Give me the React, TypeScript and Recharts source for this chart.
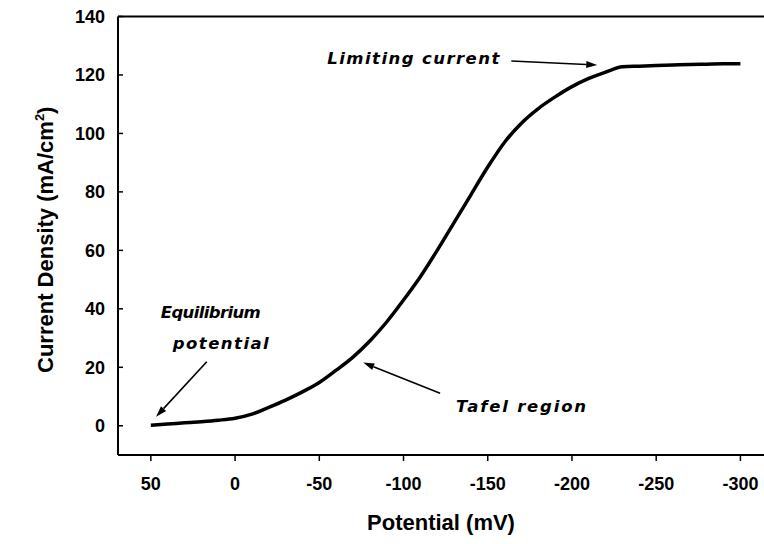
import { Label, Line, LineChart, ReferenceLine, XAxis, YAxis } from "recharts";

const FONT = '"Liberation Sans", Arial, sans-serif';
const NOTE_FONT = '"DejaVu Sans", "Liberation Sans", sans-serif';

// polarization curve
const potential = [
  50, 40, 30, 20, 10, 0, -10, -20, -30, -40, -50, -60, -70, -80, -90, -100,
  -110, -120, -130, -140, -150, -160, -170, -180, -190, -200, -210, -220,
  -230, -240, -250, -260, -270, -280, -290, -300,
];
const currentDensity = [
  0.2, 0.6, 1.0, 1.4, 1.9, 2.6, 4.0, 6.3, 8.8, 11.6, 14.8, 19, 23.5, 29,
  35.5, 43, 51, 60, 69.5, 79, 88.5, 97, 103.5, 108.5, 112.5, 116, 118.8, 121,
  122.8, 123, 123.2, 123.4, 123.6, 123.7, 123.8, 123.8,
];

const xTicks = [50, 0, -50, -100, -150, -200, -250, -300];
const yTicks = [0, 20, 40, 60, 80, 100, 120, 140];

// annotation arrows: [tail, tip] in data units
const limitingArrow = [{ x: -164, y: 124.8 }, { x: -215, y: 123.4 }];
const equilibriumArrow = [{ x: 16.8, y: 21.9 }, { x: 46.9, y: 3.1 }];
const tafelArrow = [{ x: -121.7, y: 11.1 }, { x: -76.1, y: 21.6 }];

const data = potential.map((p, i) => ({ potential: p, current: currentDensity[i] }));

const noteStyle = {
  fontFamily: NOTE_FONT,
  fontSize: 16.5,
  fontWeight: "bold" as const,
  fontStyle: "italic" as const,
  fill: "#000",
};

type Note = { text: string; dx: number; dy: number; anchor: "start" | "middle" | "end"; len: number };

// line + arrowhead + text placed next to the tail
const arrow = (notes: Note[]) => (props: any) => {
  const { x1, y1, x2, y2 } = props;
  const ang = Math.atan2(y2 - y1, x2 - x1);
  const L = 11;
  const W = 3.5;
  const bx = x2 - L * Math.cos(ang);
  const by = y2 - L * Math.sin(ang);
  const px = -Math.sin(ang) * W;
  const py = Math.cos(ang) * W;
  return (
    <g>
      <line x1={x1} y1={y1} x2={bx} y2={by} stroke="#000" strokeWidth={1.6} />
      <polygon points={`${x2},${y2} ${bx + px},${by + py} ${bx - px},${by - py}`} fill="#000" />
      {notes.map((n) => (
        <text
          key={n.text}
          x={x1 + n.dx}
          y={y1 + n.dy}
          textAnchor={n.anchor}
          textLength={n.len}
          lengthAdjust="spacing"
          style={noteStyle}
        >
          {n.text}
        </text>
      ))}
    </g>
  );
};

const YTick = ({ x, y, payload }: any) => (
  <g>
    <line x1={x + 13} x2={x + 18} y1={y} y2={y} stroke="#000" strokeWidth={1.5} />
    <text
      x={x}
      y={y}
      dy="0.36em"
      textAnchor="end"
      style={{ fontFamily: FONT, fontSize: 18, fontWeight: "bold", fill: "#000" }}
    >
      {payload.value}
    </text>
  </g>
);

export default function App() {
  return (
    <div
      style={{
        position: "absolute",
        left: 0,
        top: 0,
        width: 764,
        height: 544,
        overflow: "hidden",
        background: "#fff",
      }}
    >
      <LineChart
        width={764}
        height={544}
        data={data}
        margin={{ top: 16.5, right: 0, bottom: 0, left: 0 }}
        style={{ fontFamily: FONT }}
      >
        <XAxis
          dataKey="potential"
          type="number"
          reversed
          domain={[-314, 69.5]}
          allowDataOverflow
          ticks={xTicks}
          height={89}
          axisLine={{ stroke: "#000", strokeWidth: 2 }}
          tickLine={{ stroke: "#000", strokeWidth: 1.5 }}
          tickSize={6}
          tickMargin={16}
          tick={{ fontSize: 18, fontWeight: "bold", fill: "#000", fontFamily: FONT }}
        >
          <Label
            content={({ viewBox }: any) => (
              <text
                x={viewBox.x + viewBox.width / 2}
                y={530}
                textAnchor="middle"
                style={{ fontFamily: FONT, fontSize: 22, fontWeight: "bold", fill: "#000" }}
              >
                Potential (mV)
              </text>
            )}
          />
        </XAxis>
        <YAxis
          type="number"
          domain={[-10, 140]}
          allowDataOverflow
          ticks={yTicks}
          width={118}
          axisLine={{ stroke: "#000", strokeWidth: 2 }}
          tickLine={false}
          tickSize={0}
          tickMargin={13}
          tick={<YTick />}
        >
          <Label
            content={({ viewBox }: any) => (
              <text
                transform={`translate(53, ${viewBox.y + viewBox.height / 2 + 4}) rotate(-90)`}
                textAnchor="middle"
                style={{ fontFamily: FONT, fontSize: 22, fontWeight: "bold", fill: "#000" }}
              >
                Current Density (mA/cm
                <tspan dy={-9} fontSize={13}>2</tspan>
                <tspan dy={9}>)</tspan>
              </text>
            )}
          />
        </YAxis>
        <ReferenceLine y={140} stroke="#000" strokeWidth={2} />
        <Line
          type="monotone"
          dataKey="current"
          stroke="#000"
          strokeWidth={3.5}
          dot={false}
          isAnimationActive={false}
        />
        <ReferenceLine
          segment={limitingArrow}
          shape={arrow([{ text: "Limiting current", dx: -12, dy: 3, anchor: "end", len: 172 }])}
        />
        <ReferenceLine
          segment={equilibriumArrow}
          shape={arrow([
            { text: "Equilibrium", dx: 4, dy: -44, anchor: "middle", len: 100 },
            { text: "potential", dx: 14, dy: -13, anchor: "middle", len: 96 },
          ])}
        />
        <ReferenceLine
          segment={tafelArrow}
          shape={arrow([{ text: "Tafel region", dx: 16, dy: 19, anchor: "start", len: 130 }])}
        />
      </LineChart>
    </div>
  );
}
